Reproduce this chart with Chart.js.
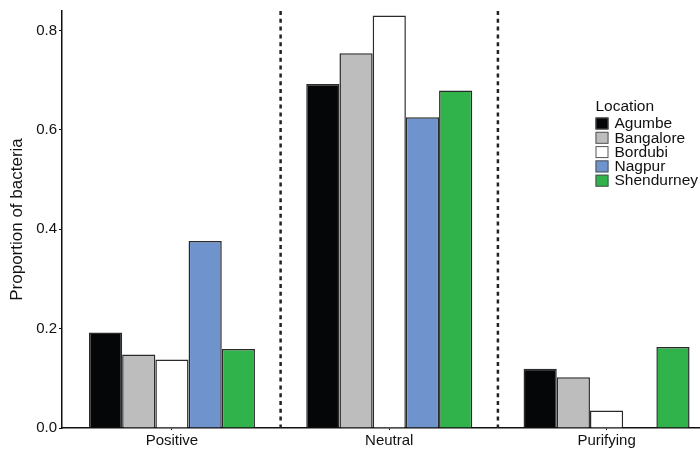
<!DOCTYPE html>
<html>
<head>
<meta charset="utf-8">
<script src="https://cdn.jsdelivr.net/npm/chart.js@4.4.0/dist/chart.umd.min.js"></script>
<style>
  html, body { margin: 0; padding: 0; background: #fff; overflow: hidden; }
  #wrap { width: 700px; height: 451px; position: relative; }
</style>
</head>
<body>
<div id="wrap"><canvas id="chart"></canvas></div>
<script>
const categories = ["Positive", "Neutral", "Purifying"];
const locations = ["Agumbe", "Bangalore", "Bordubi", "Nagpur", "Shendurney"];

// proportion per category (Positive, Neutral, Purifying)
const agumbe = [0.192, 0.692, 0.119];
const bangalore = [0.148, 0.754, 0.102];
const bordubi = [0.138, 0.830, 0.035];
const nagpur = [0.376, 0.625, 0];
const shendurney = [0.159, 0.679, 0.163];

const yTicks = [0.0, 0.2, 0.4, 0.6, 0.8];

const seriesValues = [agumbe, bangalore, bordubi, nagpur, shendurney];
const fills = ["#050608", "#bdbdbd", "#ffffff", "#6f94cd", "#2fb34a"];

Chart.defaults.font.family = "'Liberation Sans', Arial, sans-serif";
Chart.defaults.color = "#111";

// dashed separators between the groups
const separators = {
    id: "separators",
    beforeDatasetsDraw(chart) {
        const x = chart.scales.x;
        const area = chart.chartArea;
        const ctx = chart.ctx;
        ctx.save();
        ctx.strokeStyle = "#222";
        ctx.lineWidth = 2.5;
        ctx.setLineDash([4, 3.8]);
        for (let i = 0; i < categories.length - 1; i++) {
            const px = x.getPixelForValue(i + 0.5);
            ctx.beginPath();
            ctx.moveTo(px, area.top);
            ctx.lineTo(px, area.bottom);
            ctx.stroke();
        }
        ctx.restore();
    },
};

// legend box inside the plot, top right
const locationLegend = {
    id: "locationLegend",
    afterDraw(chart) {
        const ctx = chart.ctx;
        const left = 595.5;
        ctx.save();
        ctx.font = "15.5px 'Liberation Sans', Arial, sans-serif";
        ctx.fillStyle = "#111";
        ctx.textBaseline = "middle";
        ctx.fillText("Location", left, 107);
        chart.data.datasets.forEach((ds, i) => {
            const cy = 123.5 + i * 14.3;
            ctx.fillStyle = ds.backgroundColor;
            ctx.fillRect(left, cy - 6, 13, 12);
            ctx.strokeStyle = "#555";
            ctx.lineWidth = 1;
            ctx.strokeRect(left + 0.5, cy - 5.5, 12, 11);
            ctx.fillStyle = "#111";
            ctx.fillText(ds.label, 614.5, cy + 0.5);
        });
        ctx.restore();
    },
};

new Chart(document.getElementById("chart"), {
    type: "bar",
    data: {
        datasets: locations.map((name, i) => ({
            label: name,
            data: seriesValues[i].map((v, j) => ({ x: j, y: v })),
            backgroundColor: fills[i],
            borderColor: "#2a2a2a",
            borderWidth: 1.5,
            categoryPercentage: 0.764,
            barPercentage: 1,
        })),
    },
    options: {
        responsive: true,
        maintainAspectRatio: false,
        animation: false,
        layout: { padding: 0 },
        plugins: {
            legend: { display: false },
            tooltip: { enabled: false },
        },
        scales: {
            x: {
                type: "linear",
                offset: false,
                min: -0.506,
                max: 2.43,
                afterBuildTicks: (s) => {
                    s.ticks = categories.map((c, i) => ({ value: i }));
                },
                afterFit: (s) => {
                    s.height = 23;
                },
                ticks: {
                    font: { size: 15 },
                    color: "#111",
                    padding: 2,
                    callback: (v) => categories[v],
                },
                grid: { offset: false, drawOnChartArea: false, tickLength: 2, color: "#111" },
                border: { color: "#111", width: 1.5 },
            },
            y: {
                min: 0,
                max: 0.839,
                afterBuildTicks: (s) => {
                    s.ticks = yTicks.map((v) => ({ value: v }));
                },
                afterFit: (s) => {
                    s.width = 62;
                },
                ticks: {
                    font: { size: 15 },
                    color: "#111",
                    padding: 2,
                    callback: (v) => v.toFixed(1),
                },
                grid: { drawOnChartArea: false, tickLength: 3, color: "#111" },
                border: { color: "#111", width: 1.5 },
                title: {
                    display: true,
                    text: "Proportion of bacteria",
                    font: { size: 17 },
                    color: "#111",
                    padding: { top: 7, bottom: 0 },
                },
            },
        },
    },
    plugins: [separators, locationLegend],
});
</script>
</body>
</html>
